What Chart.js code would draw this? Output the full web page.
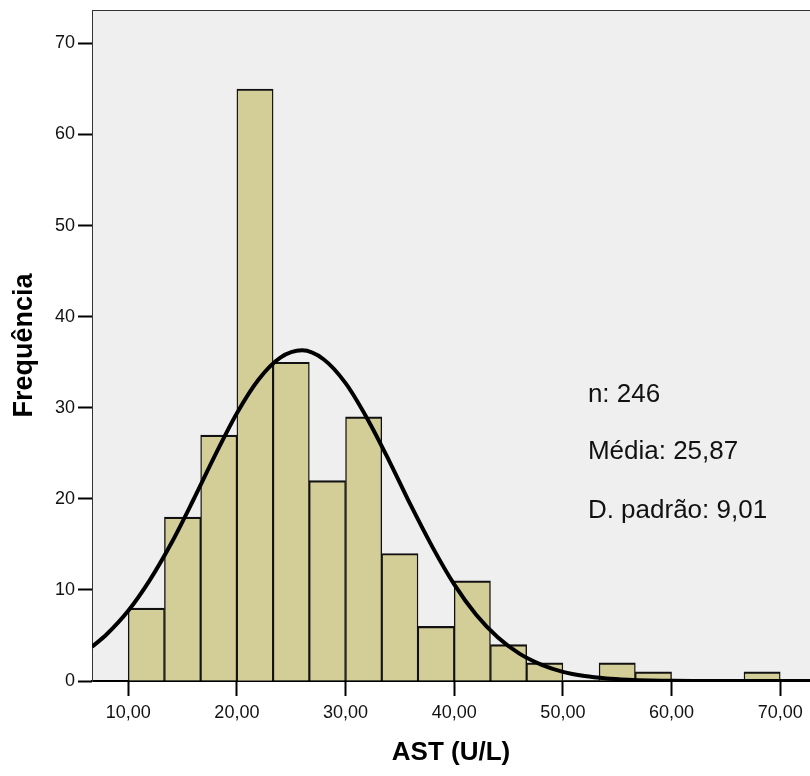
<!DOCTYPE html>
<html>
<head>
<meta charset="utf-8">
<script src="https://cdn.jsdelivr.net/npm/chart.js@4/dist/chart.umd.min.js"></script>
<style>
html,body{margin:0;padding:0;background:#fff;}
#wrap{width:810px;height:776px;position:relative;}
</style>
</head>
<body>
<div id="wrap"><canvas id="c" width="810" height="776"></canvas></div>
<script>
// Histogram bins (bin centres, width 3.333) and frequencies
const binCenters = [11.667, 15, 18.333, 21.667, 25, 28.333, 31.667, 35, 38.333, 41.667, 45, 48.333, 51.667, 55, 58.333, 61.667, 65, 68.333];
const frequencies = [8, 18, 27, 65, 35, 22, 29, 14, 6, 11, 4, 2, 0, 2, 1, 0, 0, 1];

// Fitted normal curve
const curveX = [6.667, 8, 10, 12, 14, 16, 18, 20, 22, 24, 26, 28, 30, 32, 34, 36, 38, 40, 42, 44, 46, 48, 50, 52, 54, 56, 58, 60, 62, 66, 72.8];
const curveY = [3.75, 5.1, 7.7, 11.1, 15.2, 19.9, 24.8, 29.4, 33.1, 35.5, 36.3, 35.3, 32.7, 28.8, 24.2, 19.3, 14.7, 10.6, 7.3, 4.8, 3.0, 1.8, 1.0, 0.54, 0.28, 0.14, 0.06, 0.03, 0.01, 0, 0];

// Tick values
const xTickValues = [10, 20, 30, 40, 50, 60, 70];
const yTickValues = [0, 10, 20, 30, 40, 50, 60, 70];

// Summary text
const statsLines = ['n: 246', 'Média: 25,87', 'D. padrão: 9,01'];

const FONT = "'Liberation Sans', Arial, Helvetica, sans-serif";

const bgPlugin = {
  id: 'bg',
  beforeDraw(chart) {
    const {ctx, chartArea: a} = chart;
    ctx.save();
    ctx.fillStyle = '#efefef';
    ctx.fillRect(a.left, a.top, a.right - a.left, a.bottom - a.top);
    ctx.strokeStyle = '#333';
    ctx.lineWidth = 1;
    ctx.beginPath();
    ctx.moveTo(a.left, a.top + 0.5);
    ctx.lineTo(a.right, a.top + 0.5);
    ctx.stroke();
    ctx.restore();
  }
};

const statsPlugin = {
  id: 'stats',
  afterDatasetsDraw(chart) {
    const {ctx, scales} = chart;
    const x = scales.x.getPixelForValue(52.3);
    const ys = [30.66, 24.33, 17.85].map(v => scales.y.getPixelForValue(v));
    ctx.save();
    ctx.fillStyle = '#111';
    ctx.font = "26px " + FONT;
    ctx.textAlign = 'left';
    ctx.textBaseline = 'alphabetic';
    statsLines.forEach((t, i) => ctx.fillText(t, x, ys[i]));
    ctx.restore();
  }
};

new Chart(document.getElementById('c'), {
  type: 'bar',
  data: {
    datasets: [
      {
        type: 'line',
        data: curveX.map((x, i) => ({x: x, y: curveY[i]})),
        borderColor: '#000',
        borderWidth: 4,
        pointRadius: 0,
        fill: false,
        cubicInterpolationMode: 'monotone',
        order: 0
      },
      {
        type: 'bar',
        data: binCenters.map((x, i) => ({x: x, y: frequencies[i]})),
        backgroundColor: '#d3ce98',
        borderColor: '#111',
        borderWidth: (c) => (c.raw && c.raw.y > 0) ? {top: 2.2, left: 1.4, right: 1.4, bottom: 0} : 0,
        borderSkipped: 'start',
        barPercentage: 1,
        categoryPercentage: 1,
        grouped: false,
        order: 1
      }
    ]
  },
  options: {
    responsive: false,
    animation: false,
    devicePixelRatio: 1,
    layout: {padding: {top: 10, left: 0, right: 0, bottom: 0}},
    plugins: {legend: {display: false}, tooltip: {enabled: false}},
    scales: {
      x: {
        type: 'linear',
        position: 'bottom',
        min: 6.667,
        max: 72.74,
        offset: false,
        afterBuildTicks: (s) => { s.ticks = xTickValues.map(v => ({value: v})); },
        afterFit: (s) => { s.height = 95; s.paddingLeft = 0; s.paddingRight = 0; },
        ticks: {
          color: '#111',
          font: {family: FONT, size: 18},
          padding: 6,
          maxRotation: 0,
          callback: (v) => Number(v).toFixed(2).replace('.', ',')
        },
        grid: {display: true, offset: false, drawOnChartArea: false, drawTicks: true, tickLength: 15, tickColor: '#000', tickWidth: 2},
        border: {display: true, color: '#000', width: 2},
        title: {
          display: true,
          text: 'AST (U/L)',
          color: '#000',
          font: {family: FONT, size: 26, weight: 'bold'},
          padding: {top: 0, bottom: 8}
        }
      },
      y: {
        type: 'linear',
        position: 'left',
        min: 0,
        max: 73.67,
        afterBuildTicks: (s) => { s.ticks = yTickValues.map(v => ({value: v})); },
        afterFit: (s) => { s.width = 92; s.paddingTop = 0; s.paddingBottom = 0; },
        ticks: {
          color: '#111',
          font: {family: FONT, size: 18},
          padding: 3,
          callback: (v) => String(v)
        },
        grid: {display: true, offset: false, drawOnChartArea: false, drawTicks: true, tickLength: 14, tickColor: '#000', tickWidth: 2},
        border: {display: true, color: '#333', width: 1},
        title: {
          display: true,
          text: 'Frequência',
          color: '#000',
          font: {family: FONT, size: 27, weight: 'bold'},
          padding: {top: 8, bottom: 0}
        }
      }
    }
  },
  plugins: [bgPlugin, statsPlugin]
});
</script>
</body>
</html>
